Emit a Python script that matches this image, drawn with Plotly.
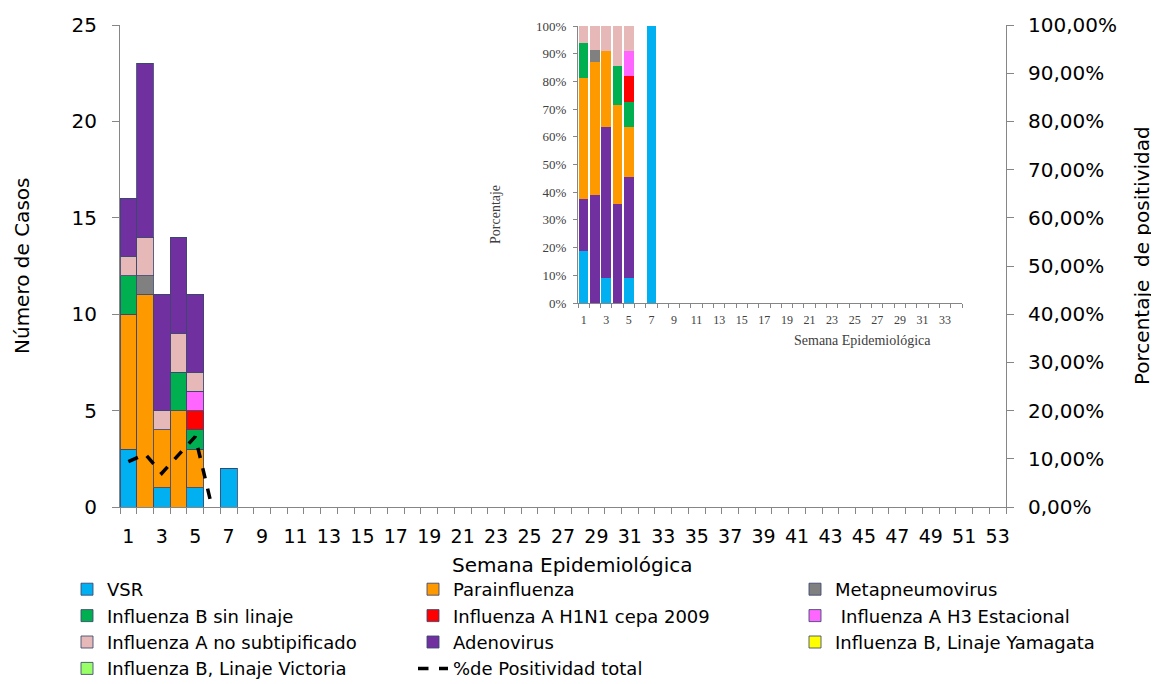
import plotly.graph_objects as go
import numpy as np

# ---------------- data ----------------
data_weeks = [1, 2, 3, 4, 5, 7]

vsr          = [3, 0, 1, 0, 1, 2]
parainf      = [7, 11, 3, 5, 2, 0]
metapneumo   = [0, 1, 0, 0, 0, 0]
infb_sin     = [2, 0, 0, 2, 1, 0]
h1n1         = [0, 0, 0, 0, 1, 0]
h3           = [0, 0, 0, 0, 1, 0]
infa_nosub   = [1, 2, 1, 2, 1, 0]
adeno        = [3, 9, 6, 5, 4, 0]
yamagata     = [0, 0, 0, 0, 0, 0]
victoria     = [0, 0, 0, 0, 0, 0]

pos_weeks = [1, 2, 3, 4, 5, 6]
positividad = [0.094, 0.11, 0.07, 0.108, 0.146, 0.0]

main_ticks = list(range(1, 54, 2))
inset_ticks = list(range(1, 35, 2))
pct_ticks = list(range(0, 101, 10))

names = ["VSR", "Parainfluenza", "Metapneumovirus", "Influenza B sin linaje",
         "Influenza A H1N1 cepa 2009", " Influenza A H3 Estacional",
         "Influenza A no subtipificado", "Adenovirus",
         "Influenza B, Linaje Yamagata", "Influenza B, Linaje Victoria"]
series = [vsr, parainf, metapneumo, infb_sin, h1n1, h3, infa_nosub, adeno, yamagata, victoria]
colors = ["#00B0F0", "#FF9900", "#808080", "#00B050", "#FF0000", "#FF66FF",
          "#E6B9B8", "#7030A0", "#FFFF00", "#99FF66"]
legend_of = ["legend", "legend2", "legend3", "legend", "legend2", "legend3",
             "legend", "legend2", "legend3", "legend"]

inset_order = [0, 7, 1, 2, 3, 4, 5, 6, 8, 9]  # stacking order in inset

FONT = "DejaVu Sans"
SERIF = "Liberation Serif"

fig = go.Figure()

# main stacked bars
for i, (nm, s, c) in enumerate(zip(names, series, colors)):
    fig.add_trace(go.Bar(
        x=data_weeks, y=s, name=nm, marker_color=c, width=1,
        marker_line=dict(color="rgba(60,70,110,0.85)", width=1),
        legend=legend_of[i], legendrank=i, xaxis="x", yaxis="y",
    ))

# positivity line
fig.add_trace(go.Scatter(
    x=pos_weeks, y=positividad, name="%de Positividad total", mode="lines",
    line=dict(color="black", width=3.5, dash="dash"),
    legend="legend2", legendrank=20, xaxis="x", yaxis="y2",
))

# inset percentage bars
totals = np.array(series).sum(axis=0)
for i in inset_order:
    pct = np.array(series[i]) / totals * 100
    fig.add_trace(go.Bar(
        x=data_weeks, y=pct, marker_color=colors[i], marker_line_width=0,
        width=0.85, showlegend=False, xaxis="x3", yaxis="y3", name=names[i],
    ))

axis_gray = "#868686"
inset_txt = "#404040"
leg_common = dict(xref="container", yref="container", xanchor="left", yanchor="top",
                  orientation="v", font=dict(size=18), itemwidth=30, tracegroupgap=0,
                  traceorder="normal", bgcolor="rgba(0,0,0,0)")
LEG_Y = 1 - 563 / 684


def px_x(p):   # viewport pixel -> paper x
    return (p - 120) / 886


def px_y(p):   # viewport pixel -> paper y
    return (507 - p) / 482


fig.update_layout(
    width=1159, height=684,
    paper_bgcolor="white", plot_bgcolor="rgba(0,0,0,0)",
    barmode="stack",
    separators=",.",
    font=dict(family=FONT, color="black"),
    margin=dict(l=112, r=161, t=17, b=185, autoexpand=False),
    xaxis=dict(
        domain=[0, 1], range=[0.5, 53.5], tickmode="array",
        tickvals=main_ticks, ticktext=[str(w) for w in main_ticks],
        ticks="outside", ticklen=12, tickcolor="rgba(0,0,0,0)",
        tickfont=dict(size=19), showline=True, linecolor=axis_gray, linewidth=1,
        showgrid=False, zeroline=False, automargin=False,
        minor=dict(tickmode="array", tickvals=[w + 0.5 for w in range(0, 54)],
                   ticks="outside", ticklen=6, tickcolor=axis_gray, showgrid=False),
    ),
    yaxis=dict(
        domain=[0, 1], range=[0, 25], dtick=5, ticks="outside", ticklen=7,
        tickcolor=axis_gray, tickfont=dict(size=20), showline=True,
        linecolor=axis_gray, showgrid=False, zeroline=False, automargin=False,
        ticklabelstandoff=11,
    ),
    yaxis2=dict(
        overlaying="y", side="right", range=[0, 1], dtick=0.1, tickformat=".2%",
        ticks="outside", ticklen=7, tickcolor=axis_gray, tickfont=dict(size=20),
        showline=True, linecolor=axis_gray, showgrid=False, zeroline=False,
        automargin=False, ticklabelstandoff=10,
    ),
    xaxis3=dict(
        domain=[px_x(578), px_x(962)], anchor="y3", range=[0.5, 34.5], tickmode="array",
        tickvals=inset_ticks, ticktext=[str(w) for w in inset_ticks],
        ticks="outside", ticklen=6, tickcolor="rgba(0,0,0,0)",
        tickfont=dict(family=SERIF, size=12, color=inset_txt),
        showline=True, linecolor=axis_gray, showgrid=False, zeroline=False,
        automargin=False,
        minor=dict(tickmode="array", tickvals=[w + 0.5 for w in range(0, 35)],
                   ticks="outside", ticklen=4, tickcolor=axis_gray, showgrid=False),
    ),
    yaxis3=dict(
        domain=[px_y(303), px_y(26)], anchor="x3", range=[0, 100], tickmode="array",
        tickvals=pct_ticks, ticktext=[f"{v}%" for v in pct_ticks],
        ticks="outside", ticklen=4, tickcolor=axis_gray,
        tickfont=dict(family=SERIF, size=13, color=inset_txt),
        showline=True, linecolor=axis_gray, showgrid=False, zeroline=False,
        automargin=False, ticklabelstandoff=4,
    ),
    legend=dict(x=59/1159, y=LEG_Y, **leg_common),
    legend2=dict(x=405/1159, y=LEG_Y, **leg_common),
    legend3=dict(x=787/1159, y=LEG_Y, **leg_common),
    annotations=[
        dict(text="Semana Epidemiológica", xref="paper", yref="paper",
             x=px_x(572), y=px_y(565), xanchor="center", yanchor="middle",
             showarrow=False, font=dict(size=20)),
        dict(text="Número de Casos", xref="paper", yref="paper",
             x=px_x(22), y=px_y(266), xanchor="center", yanchor="middle",
             textangle=-90, showarrow=False, font=dict(size=20)),
        dict(text="Porcentaje  de positividad", xref="paper", yref="paper",
             x=px_x(1142), y=px_y(256), xanchor="center", yanchor="middle",
             textangle=-90, showarrow=False, font=dict(size=20)),
        dict(text="Semana Epidemiológica", xref="paper", yref="paper",
             x=px_x(862), y=px_y(340), xanchor="center", yanchor="middle",
             showarrow=False, font=dict(family=SERIF, size=14, color=inset_txt)),
        dict(text="Porcentaje", xref="paper", yref="paper",
             x=px_x(495), y=px_y(215), xanchor="center", yanchor="middle",
             textangle=-90, showarrow=False,
             font=dict(family=SERIF, size=14, color=inset_txt)),
    ],
)

fig.write_html("out.html")
